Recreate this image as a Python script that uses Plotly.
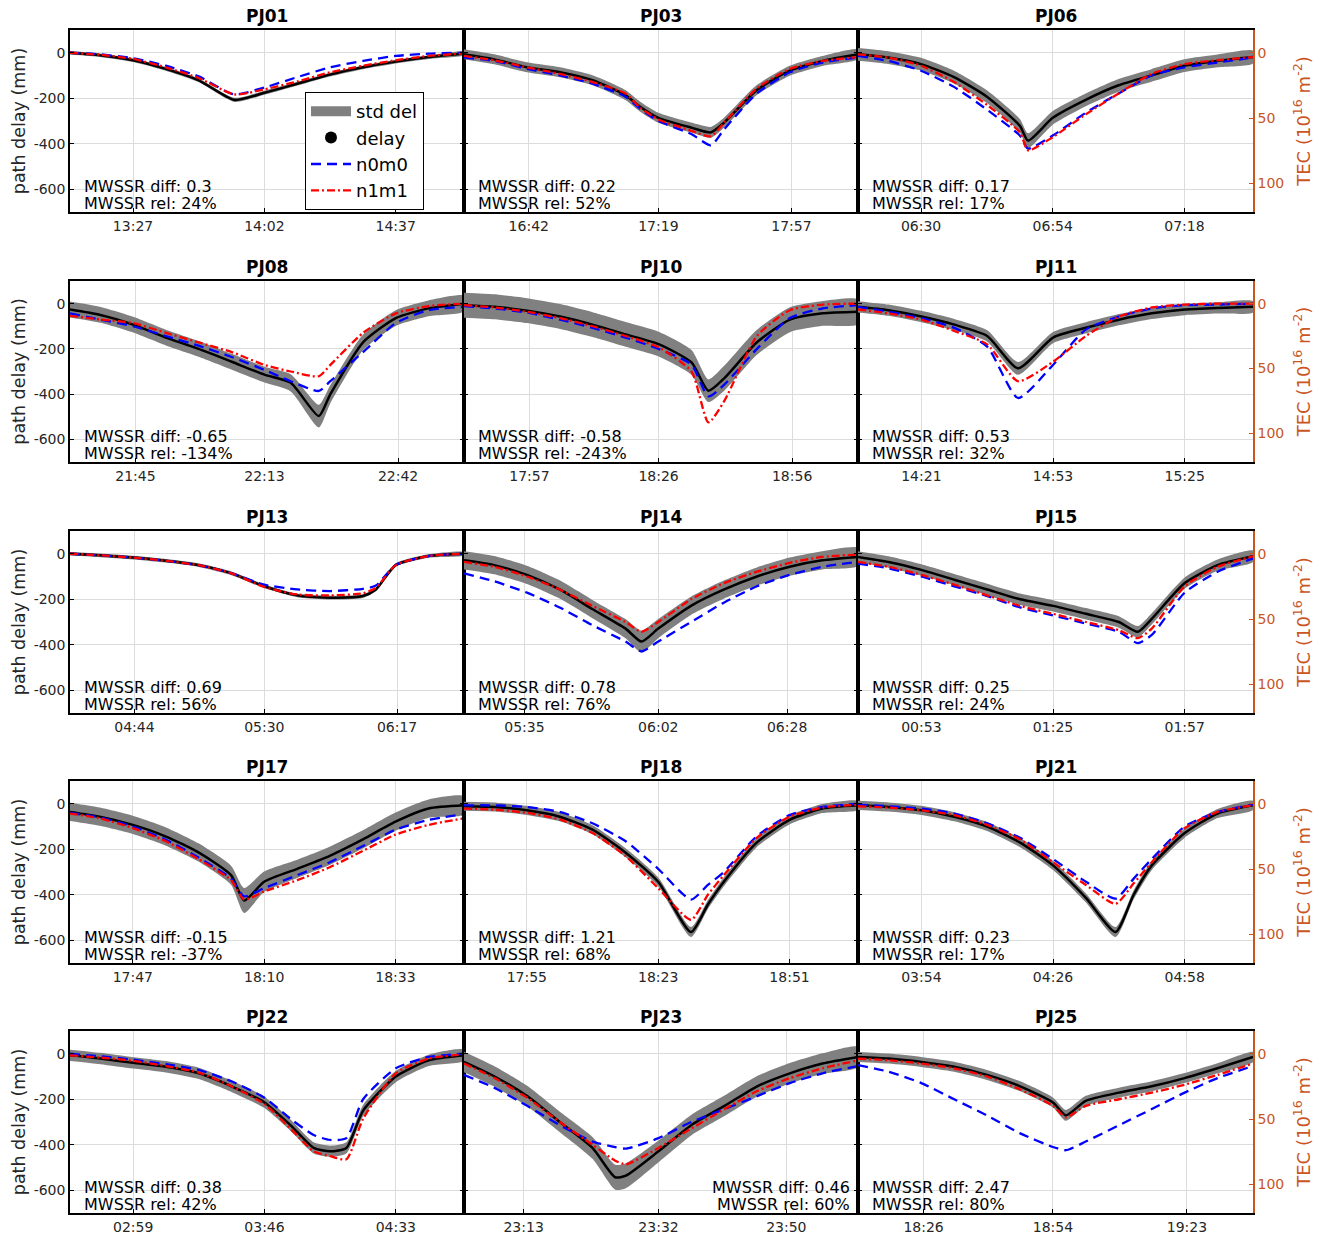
import plotly.graph_objects as go

# ---------------- data (times in minutes relative to the middle tick) ----------------
pj01_ticks = ["13:27", "14:02", "14:37"]
pj01_t = [-51.8, -43.8, -35, -26.3, -17.5, -8, 0, 8.8, 17.5, 26.3, 35, 43.8, 53.2]
pj01_delay = [0, -11, -33, -71, -121, -207, -176, -136, -96, -64, -39, -19, -3]
pj01_std = [8, 8, 8, 8, 8, 9, 9, 8, 8, 8, 8, 8, 8]
pj01_n0m0 = [0, -7, -24, -57, -104, -183, -153, -107, -64, -36, -14, -4, 0]
pj01_n1m1 = [0, -9, -27, -64, -111, -183, -161, -126, -86, -57, -33, -14, -3]
pj01_mwssr = ["0.3", "24%"]

pj03_ticks = ["16:42", "17:19", "17:57"]
pj03_t = [-55.5, -46.9, -37.5, -28.1, -18.8, -9.4, -5.3, 0, 9.4, 15, 18.8, 28.1, 37.5, 46.9, 57]
pj03_delay = [-7, -29, -64, -86, -121, -186, -236, -286, -329, -350, -307, -164, -79, -36, -7]
pj03_std = [22, 22, 22, 22, 22, 22, 22, 22, 22, 24, 22, 22, 22, 22, 22]
pj03_n0m0 = [-21, -36, -71, -100, -136, -193, -245, -300, -357, -407, -336, -179, -86, -43, -21]
pj03_n1m1 = [-14, -33, -64, -93, -129, -179, -240, -293, -343, -367, -307, -157, -71, -36, -19]
pj03_mwssr = ["0.22", "52%"]

pj06_ticks = ["06:30", "06:54", "07:18"]
pj06_t = [-35.5, -30, -24, -18, -12, -6, -4.5, 0, 6, 12, 18, 24, 30, 36.5]
pj06_delay = [-7, -21, -50, -107, -193, -321, -386, -286, -207, -143, -100, -57, -36, -19]
pj06_std = [28, 28, 28, 28, 28, 30, 32, 30, 28, 28, 28, 28, 28, 28]
pj06_n0m0 = [-14, -36, -79, -150, -250, -364, -421, -364, -264, -179, -100, -64, -43, -21]
pj06_n1m1 = [-7, -21, -57, -129, -229, -350, -429, -371, -271, -179, -93, -50, -33, -19]
pj06_mwssr = ["0.17", "17%"]

pj08_ticks = ["21:45", "22:13", "22:42"]
pj08_t = [-42.2, -35.6, -28.5, -21.4, -14.3, -7.1, 0, 5.7, 11.8, 14.3, 21.4, 28.5, 35.6, 43.3]
pj08_delay = [-26, -50, -93, -150, -200, -257, -314, -350, -497, -400, -171, -64, -21, 0]
pj08_std = [35, 35, 35, 35, 35, 35, 35, 38, 50, 40, 35, 35, 35, 35]
pj08_n0m0 = [-43, -71, -100, -143, -186, -236, -293, -343, -386, -343, -214, -86, -29, -14]
pj08_n1m1 = [-54, -70, -86, -129, -171, -214, -271, -300, -321, -271, -129, -43, -11, 0]
pj08_mwssr = ["-0.65", "-134%"]

pj10_ticks = ["17:57", "18:26", "18:56"]
pj10_t = [-43.7, -36.9, -29.5, -22.1, -14.8, -7.4, 0, 7.4, 11.2, 14.8, 22.1, 29.5, 36.9, 44.8]
pj10_delay = [-7, -14, -31, -57, -93, -136, -179, -260, -385, -329, -171, -71, -43, -36]
pj10_std = [55, 55, 55, 55, 55, 55, 55, 55, 50, 55, 55, 55, 55, 55]
pj10_n0m0 = [-11, -21, -40, -71, -107, -150, -200, -270, -410, -357, -200, -64, -21, -7]
pj10_n1m1 = [-7, -17, -36, -64, -100, -143, -193, -300, -525, -429, -143, -29, -4, 0]
pj10_mwssr = ["-0.58", "-243%"]

pj11_ticks = ["14:21", "14:53", "15:25"]
pj11_t = [-47.4, -40, -32, -24, -16, -8.5, 0, 8, 16, 24, 32, 40, 48.6]
pj11_delay = [-14, -29, -57, -93, -143, -286, -150, -107, -71, -43, -26, -19, -14]
pj11_std = [25, 25, 25, 25, 25, 28, 25, 25, 25, 25, 25, 25, 25]
pj11_n0m0 = [-14, -36, -64, -107, -190, -417, -271, -114, -57, -21, -7, -4, 0]
pj11_n1m1 = [-26, -43, -71, -121, -180, -343, -257, -143, -57, -17, -4, 0, 0]
pj11_mwssr = ["0.53", "32%"]

pj13_ticks = ["04:44", "05:30", "06:17"]
pj13_t = [-68.8, -58.1, -46.5, -34.9, -23.3, -11.6, 0, 11.6, 23.3, 34.9, 39.5, 46.5, 58.1, 70.7]
pj13_delay = [0, -7, -17, -31, -50, -86, -143, -183, -193, -186, -157, -50, -10, 0]
pj13_std = [8, 8, 8, 8, 8, 8, 8, 8, 8, 8, 8, 8, 8, 8]
pj13_n0m0 = [0, -7, -17, -31, -50, -86, -136, -157, -164, -154, -140, -50, -10, 0]
pj13_n1m1 = [0, -7, -17, -31, -50, -86, -146, -179, -183, -174, -150, -50, -10, 0]
pj13_mwssr = ["0.69", "56%"]

pj14_ticks = ["05:35", "06:02", "06:28"]
pj14_t = [-39.2, -33.1, -26.5, -19.9, -13.3, -6.6, -3.4, 0, 6.6, 13.3, 19.9, 26.5, 33.1, 40.3]
pj14_delay = [-29, -50, -93, -157, -243, -329, -386, -329, -229, -157, -100, -57, -29, -14]
pj14_std = [40, 40, 40, 40, 40, 42, 48, 42, 40, 40, 40, 40, 40, 40]
pj14_n0m0 = [-86, -121, -171, -236, -314, -386, -429, -386, -300, -214, -143, -93, -57, -36]
pj14_n1m1 = [-36, -57, -100, -157, -229, -300, -343, -300, -200, -129, -79, -40, -14, -3]
pj14_mwssr = ["0.78", "76%"]

pj15_ticks = ["00:53", "01:25", "01:57"]
pj15_t = [-47.4, -40, -32, -24, -16, -8, 0, 8, 16, 20.6, 24, 32, 40, 48.6]
pj15_delay = [-14, -36, -71, -114, -157, -200, -229, -264, -300, -343, -286, -129, -50, -11]
pj15_std = [25, 25, 25, 25, 25, 25, 25, 25, 25, 25, 25, 25, 25, 25]
pj15_n0m0 = [-43, -64, -100, -143, -186, -236, -271, -307, -343, -393, -357, -171, -79, -21]
pj15_n1m1 = [-36, -57, -93, -136, -183, -229, -264, -300, -336, -371, -329, -143, -57, -11]
pj15_mwssr = ["0.25", "24%"]

pj17_ticks = ["17:47", "18:10", "18:33"]
pj17_t = [-34, -28.8, -23, -17.3, -11.5, -5.8, -3.5, 0, 5.8, 11.5, 17.3, 23, 28.8, 35]
pj17_delay = [-36, -57, -93, -143, -214, -314, -425, -343, -286, -229, -157, -79, -21, -7]
pj17_std = [40, 40, 40, 40, 40, 42, 55, 45, 40, 40, 40, 40, 40, 40]
pj17_n0m0 = [-40, -60, -100, -157, -236, -329, -407, -371, -314, -257, -186, -114, -71, -46]
pj17_n1m1 = [-43, -64, -107, -164, -243, -336, -421, -386, -336, -279, -207, -136, -93, -64]
pj17_mwssr = ["-0.15", "-37%"]

pj18_ticks = ["17:55", "18:23", "18:51"]
pj18_t = [-41.4, -35, -28, -21, -14, -7, 0, 7, 10.6, 14, 21, 28, 35, 42.6]
pj18_delay = [-11, -14, -29, -57, -114, -214, -343, -564, -443, -343, -171, -71, -21, -7]
pj18_std = [20, 20, 20, 20, 20, 20, 20, 22, 20, 20, 20, 20, 20, 20]
pj18_n0m0 = [-7, -7, -14, -36, -86, -164, -286, -421, -357, -300, -143, -50, -14, 0]
pj18_n1m1 = [-21, -26, -40, -69, -129, -229, -371, -510, -400, -314, -150, -57, -17, -4]
pj18_mwssr = ["1.21", "68%"]

pj21_ticks = ["03:54", "04:26", "04:58"]
pj21_t = [-47.4, -40, -32, -24, -16, -8, 0, 8, 15.2, 19.6, 24, 32, 40, 48.6]
pj21_delay = [-7, -14, -29, -57, -100, -171, -271, -414, -564, -400, -271, -129, -43, -7]
pj21_std = [20, 20, 20, 20, 20, 20, 20, 20, 22, 20, 20, 20, 20, 20]
pj21_n0m0 = [-4, -11, -21, -43, -86, -150, -243, -343, -417, -329, -243, -100, -36, -4]
pj21_n1m1 = [-11, -17, -29, -50, -93, -157, -257, -357, -440, -350, -257, -107, -36, -7]
pj21_mwssr = ["0.23", "17%"]

pj22_ticks = ["02:59", "03:46", "04:33"]
pj22_t = [-69.6, -58.8, -47, -35.3, -23.5, -11.8, 0, 9.3, 17.6, 23.5, 29.3, 35.3, 47, 58.8, 71.4]
pj22_delay = [-7, -21, -40, -57, -86, -143, -214, -314, -414, -429, -414, -250, -100, -29, -7]
pj22_std = [25, 25, 25, 25, 25, 25, 25, 25, 25, 25, 25, 25, 25, 25, 25]
pj22_n0m0 = [0, -11, -26, -46, -71, -121, -193, -286, -357, -379, -371, -200, -64, -14, 0]
pj22_n1m1 = [-7, -17, -31, -54, -83, -143, -221, -329, -429, -450, -464, -286, -86, -21, -3]
pj22_mwssr = ["0.38", "42%"]

pj23_ticks = ["23:13", "23:32", "23:50"]
pj23_t = [-27.4, -23.1, -18.5, -13.9, -9.3, -6.1, -4.6, 0, 4.6, 9.3, 13.9, 18.5, 23.1, 28.1]
pj23_delay = [-36, -100, -186, -300, -414, -543, -536, -429, -314, -229, -143, -86, -43, -14]
pj23_std = [45, 45, 45, 45, 48, 55, 55, 48, 45, 45, 45, 45, 45, 45]
pj23_n0m0 = [-93, -150, -229, -314, -386, -410, -417, -371, -300, -243, -186, -129, -86, -54]
pj23_n1m1 = [-43, -107, -193, -300, -400, -470, -486, -414, -329, -243, -164, -107, -64, -29]
pj23_mwssr = ["0.46", "60%"]

pj25_ticks = ["18:26", "18:54", "19:23"]
pj25_t = [-42.2, -35.6, -28.5, -21.4, -14.3, -7.1, 0, 2.8, 7.1, 14.3, 21.4, 28.5, 35.6, 43.3]
pj25_delay = [-14, -21, -36, -57, -93, -143, -214, -271, -207, -171, -143, -107, -64, -14]
pj25_std = [22, 22, 22, 22, 22, 22, 22, 24, 22, 22, 22, 22, 22, 22]
pj25_n0m0 = [-50, -79, -129, -200, -271, -350, -410, -424, -386, -314, -243, -171, -107, -54]
pj25_n1m1 = [-21, -29, -43, -64, -100, -157, -229, -279, -229, -200, -171, -136, -93, -43]
pj25_mwssr = ["2.47", "80%"]

panel_names = ["PJ01", "PJ03", "PJ06", "PJ08", "PJ10", "PJ11", "PJ13", "PJ14",
               "PJ15", "PJ17", "PJ18", "PJ21", "PJ22", "PJ23", "PJ25"]

delay_ticks = [0, -200, -400, -600]
tec_ticks = [0, 50, 100]
delay_range = [-700, 100]
mm_per_tec = 5.74   # path delay (mm) per TEC unit (10^16 m^-2)

# ---------------- layout geometry ----------------
W, H = 1326, 1238
COLS = [(70, 464), (464, 858), (858, 1253)]
ROWS = [(30, 212), (281, 462), (531, 713), (781, 963), (1031, 1213)]
FONT = "DejaVu Sans"
TXT = "#262626"
ORANGE = "#C9561F"
GRID = "#dcdcdc"
SMOOTH = 0.6


def hm(s):
    h, m = s.split(":")
    return int(h) * 60 + int(m)


g = globals()
fig = go.Figure()
layout = {}
annotations = []

for i, name in enumerate(panel_names):
    key = name.lower()
    t = g[key + "_t"]
    d = g[key + "_delay"]
    s = g[key + "_std"]
    b = g[key + "_n0m0"]
    r = g[key + "_n1m1"]
    ticks = g[key + "_ticks"]
    mw = g[key + "_mwssr"]
    row, col = divmod(i, 3)
    n = i + 1
    xs = "x" if n == 1 else f"x{n}"
    ys = "y" if n == 1 else f"y{n}"

    upper = [dv + sv for dv, sv in zip(d, s)]
    lower = [dv - sv for dv, sv in zip(d, s)]
    fig.add_trace(go.Scatter(x=t + t[::-1], y=upper + lower[::-1], fill="toself",
                             fillcolor="#808080",
                             line=dict(width=0, color="#808080", shape="spline", smoothing=SMOOTH),
                             mode="lines", showlegend=False, hoverinfo="skip",
                             xaxis=xs, yaxis=ys))
    fig.add_trace(go.Scatter(x=t, y=d, mode="lines",
                             line=dict(color="black", width=2.5, shape="spline", smoothing=SMOOTH),
                             showlegend=False, name="delay", xaxis=xs, yaxis=ys))
    fig.add_trace(go.Scatter(x=t, y=b, mode="lines",
                             line=dict(color="#0000ff", width=2.3, dash="10px,6px",
                                       shape="spline", smoothing=SMOOTH),
                             name="n0m0", showlegend=False, xaxis=xs, yaxis=ys))
    fig.add_trace(go.Scatter(x=t, y=r, mode="lines",
                             line=dict(color="#ff0000", width=2.3, dash="8px,3px,2px,3px",
                                       shape="spline", smoothing=SMOOTH),
                             name="n1m1", showlegend=False, xaxis=xs, yaxis=ys))

    x0, x1 = COLS[col]
    top, bot = ROWS[row]
    mid = hm(ticks[1])
    tickvals = [hm(tk) - mid for tk in ticks]

    xkey = "xaxis" if n == 1 else f"xaxis{n}"
    ykey = "yaxis" if n == 1 else f"yaxis{n}"
    layout[xkey] = dict(
        domain=[x0 / W, x1 / W], anchor=ys, range=[t[0], t[-1]],
        tickmode="array", tickvals=tickvals, ticktext=ticks,
        showline=True, linecolor="black", linewidth=1.5, mirror=True,
        ticks="inside", ticklen=4, tickcolor="black",
        showgrid=True, gridcolor=GRID, gridwidth=1, zeroline=False,
        tickfont=dict(family=FONT, size=14, color=TXT), fixedrange=True)
    ydict = dict(
        domain=[(H - bot) / H, (H - top) / H], anchor=xs, range=delay_range,
        tickmode="array", tickvals=delay_ticks, ticktext=[str(v) for v in delay_ticks],
        showticklabels=(col == 0),
        showline=True, linecolor="black", linewidth=1.5,
        mirror=("ticks" if col < 2 else False),
        ticks="inside", ticklen=4, tickcolor="black",
        showgrid=True, gridcolor=GRID, gridwidth=1, zeroline=False,
        tickfont=dict(family=FONT, size=14, color=TXT), fixedrange=True)
    if col == 0:
        ydict["title"] = dict(text="path delay (mm)", font=dict(family=FONT, size=17.5, color=TXT),
                              standoff=4)
    layout[ykey] = ydict

    if col == 2:
        tn = 15 + row + 1
        tec_key = f"y{tn}"
        # TEC scale of the same delay (invisible carrier so the TEC axis is drawn)
        fig.add_trace(go.Scatter(x=t, y=[-v / mm_per_tec for v in d], mode="lines",
                                 line=dict(width=0, color="rgba(0,0,0,0)"), opacity=0,
                                 showlegend=False, hoverinfo="skip", xaxis=xs, yaxis=tec_key))
        layout[f"yaxis{tn}"] = dict(
            overlaying=ys, anchor=xs, side="right",
            range=[-delay_range[0] / mm_per_tec, -delay_range[1] / mm_per_tec],
            tickmode="array", tickvals=tec_ticks, ticktext=[str(v) for v in tec_ticks],
            showline=True, linecolor=ORANGE, linewidth=1.5,
            ticks="inside", ticklen=4, tickcolor=ORANGE,
            showgrid=False, zeroline=False,
            tickfont=dict(family=FONT, size=14, color=ORANGE),
            title=dict(text="TEC (10<sup>16</sup> m<sup>-2</sup>)",
                       font=dict(family=FONT, size=18, color=ORANGE), standoff=14),
            fixedrange=True)

    # title
    annotations.append(dict(text=f"<b>{name}</b>", xref="paper", yref="paper",
                            x=(x0 + x1) / 2 / W, y=(H - (top - 14)) / H,
                            xanchor="center", yanchor="middle", showarrow=False,
                            font=dict(family=FONT, size=17, color="black")))
    # MWSSR text
    right = (name == "PJ23")
    ax = 0.985 if right else 0.03
    anc = "right" if right else "left"
    annotations.append(dict(text=f"MWSSR diff: {mw[0]}", xref=f"{xs} domain", yref=f"{ys} domain",
                            x=ax, y=26 / 182, xanchor=anc, yanchor="middle", showarrow=False,
                            font=dict(family=FONT, size=16, color="black")))
    annotations.append(dict(text=f"MWSSR rel: {mw[1]}", xref=f"{xs} domain", yref=f"{ys} domain",
                            x=ax, y=9 / 182, xanchor=anc, yanchor="middle", showarrow=False,
                            font=dict(family=FONT, size=16, color="black")))

# legend entries (first panel)
fig.add_trace(go.Scatter(x=[None], y=[None], mode="lines", name="std del",
                         line=dict(color="#808080", width=14), showlegend=True))
fig.add_trace(go.Scatter(x=[None], y=[None], mode="markers", name="delay",
                         marker=dict(color="black", size=12), showlegend=True))
fig.add_trace(go.Scatter(x=[None], y=[None], mode="lines", name="n0m0",
                         line=dict(color="#0000ff", width=2.3, dash="10px,6px"), showlegend=True))
fig.add_trace(go.Scatter(x=[None], y=[None], mode="lines", name="n1m1",
                         line=dict(color="#ff0000", width=2.3, dash="8px,3px,2px,3px"),
                         showlegend=True))

fig.update_layout(
    width=W, height=H, margin=dict(l=0, r=0, t=0, b=0),
    paper_bgcolor="white", plot_bgcolor="white",
    font=dict(family=FONT, color=TXT),
    showlegend=True,
    legend=dict(x=305 / W, y=(H - 92) / H, xanchor="left", yanchor="top",
                bgcolor="white", bordercolor="black", borderwidth=1,
                font=dict(family=FONT, size=18, color="black"),
                itemwidth=40, tracegroupgap=0),
    annotations=annotations,
    **layout)

fig.write_html("out.html")
